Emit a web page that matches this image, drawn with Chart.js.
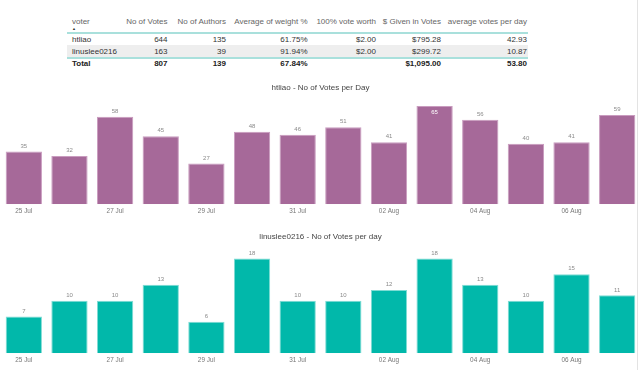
<!DOCTYPE html>
<html>
<head>
<meta charset="utf-8">
<script src="https://cdn.jsdelivr.net/npm/chart.js@4/dist/chart.umd.min.js"></script>
<style>
  html, body { margin:0; padding:0; background:#fff; }
  body { width:640px; height:370px; position:relative; overflow:hidden; font-family:"Liberation Sans", Arial, sans-serif; }
  .cell { position:absolute; font-size:8px; line-height:10px; white-space:nowrap; }
  .hdr { color:#666; }
  .dat { color:#333; }
  .tot { color:#222; font-weight:bold; }
  .tline { position:absolute; left:67px; width:461px; height:2px; background:#a9e0dc; }
  .rowbg { position:absolute; left:67px; width:461px; background:#eeeeee; }
  #vline { position:absolute; left:637px; top:0; width:1px; height:370px; background:#e3e3e3; }
  .cv { position:absolute; left:0; width:640px; height:140px; }
</style>
</head>
<body>
<div id="table"></div>
<div id="vline"></div>
<div class="cv" style="top:78px"><canvas id="c1" width="640" height="140"></canvas></div>
<div class="cv" style="top:227px"><canvas id="c2" width="640" height="140"></canvas></div>
<script>
// ---- table data ----
const tableColumns = ['voter', 'No of Votes', 'No of Authors', 'Average of weight %', '100% vote worth', '$ Given in Votes', 'average votes per day'];
const voters = ['htliao', 'linuslee0216'];
const noOfVotes = ['644', '163'];
const noOfAuthors = ['135', '39'];
const avgWeight = ['61.75%', '91.94%'];
const voteWorth = ['$2.00', '$2.00'];
const givenInVotes = ['$795.28', '$299.72'];
const avgVotesPerDay = ['42.93', '10.87'];
const totalRow = ['Total', '807', '139', '67.84%', '', '$1,095.00', '53.80'];

// ---- chart data ----
const days = ['25 Jul', '26 Jul', '27 Jul', '28 Jul', '29 Jul', '30 Jul', '31 Jul', '01 Aug', '02 Aug', '03 Aug', '04 Aug', '05 Aug', '06 Aug', '07 Aug'];
const htliaoVotes = [35, 32, 58, 45, 27, 48, 46, 51, 41, 65, 56, 40, 41, 59];
const linusVotes = [7, 10, 10, 13, 6, 18, 10, 10, 12, 18, 13, 10, 15, 11];
const title1 = 'htliao - No of Votes per Day';
const title2 = 'linuslee0216 - No of Votes per day';

// ---- build table ----
(function () {
  const t = document.getElementById('table');
  const rightEdges = [null, 167.5, 226, 307.5, 376, 441, 527];
  const voterLeft = 72;
  const rowsY = [17, 34.5, 46.5, 58.5];
  const bg = document.createElement('div');
  bg.className = 'rowbg'; bg.style.top = '45px'; bg.style.height = '12px';
  t.appendChild(bg);
  [32, 56.5].forEach(y => { const l = document.createElement('div'); l.className = 'tline'; l.style.top = y + 'px'; t.appendChild(l); });
  const rows = [
    { cls: 'hdr', vals: tableColumns },
    { cls: 'dat', vals: [voters[0], noOfVotes[0], noOfAuthors[0], avgWeight[0], voteWorth[0], givenInVotes[0], avgVotesPerDay[0]] },
    { cls: 'dat', vals: [voters[1], noOfVotes[1], noOfAuthors[1], avgWeight[1], voteWorth[1], givenInVotes[1], avgVotesPerDay[1]] },
    { cls: 'tot', vals: totalRow }
  ];
  rows.forEach((r, ri) => {
    r.vals.forEach((v, ci) => {
      const d = document.createElement('div');
      d.className = 'cell ' + r.cls;
      d.textContent = v;
      d.style.top = rowsY[ri] + 'px';
      if (ci === 0) { d.style.left = voterLeft + 'px'; }
      else { d.style.right = (640 - rightEdges[ci]) + 'px'; }
      t.appendChild(d);
    });
  });
  const arrow = document.createElement('div');
  arrow.className = 'cell'; arrow.textContent = '\u25B2';
  arrow.style.cssText += 'left:72px;top:25.5px;font-size:4px;line-height:5px;color:#333;';
  t.appendChild(arrow);
})();

// ---- value label plugin ----
const valueLabels = {
  id: 'valueLabels',
  afterDatasetsDraw(chart) {
    const ctx = chart.ctx;
    const meta = chart.getDatasetMeta(0);
    const data = chart.data.datasets[0].data;
    ctx.save();
    ctx.font = '6px "Liberation Sans", Arial, sans-serif';
    ctx.textAlign = 'center';
    ctx.textBaseline = 'middle';
    meta.data.forEach((bar, i) => {
      const top = bar.y;
      if (top - 8 < chart.chartArea.top) {
        ctx.fillStyle = '#ffffff';
        ctx.fillText(String(data[i]), bar.x, top + 6.5);
      } else {
        ctx.fillStyle = '#8a8a8a';
        ctx.fillText(String(data[i]), bar.x, top - 5.5);
      }
    });
    ctx.restore();
  }
};

function makeChart(id, title, values, color, border, yMax) {
  return new Chart(document.getElementById(id), {
    type: 'bar',
    data: {
      labels: days,
      datasets: [{
        data: values,
        backgroundColor: color,
        borderColor: border,
        borderWidth: 1,
        categoryPercentage: 1,
        barPercentage: 0.795
      }]
    },
    options: {
      responsive: false,
      animation: false,
      devicePixelRatio: 1,
      layout: { padding: { left: 1, right: 0, top: 0, bottom: 0 } },
      plugins: {
        legend: { display: false },
        tooltip: { enabled: false },
        title: {
          display: true,
          text: title,
          color: '#444',
          font: { family: '"Liberation Sans", Arial, sans-serif', size: 8, weight: 'normal', lineHeight: 1.5 },
          padding: { top: 4, bottom: 6 }
        }
      },
      scales: {
        x: {
          grid: { display: false, drawTicks: false },
          border: { display: false },
          ticks: {
            autoSkip: false,
            maxRotation: 0,
            padding: 3,
            color: '#777',
            font: { family: '"Liberation Sans", Arial, sans-serif', size: 6.4 },
            callback: function (v, i) { return i % 2 === 0 ? this.getLabelForValue(v) : ''; }
          }
        },
        y: { display: false, min: 0, max: yMax }
      }
    },
    plugins: [valueLabels]
  });
}

makeChart('c1', title1, htliaoVotes, '#a66999', '#c99cbf', 69);
makeChart('c2', title2, linusVotes, '#01b8aa', '#7fdcd4', 19.8);
</script>
</body>
</html>
